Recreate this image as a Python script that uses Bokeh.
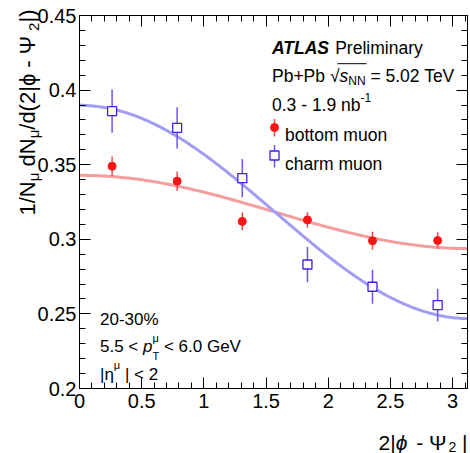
import numpy as np
from bokeh.plotting import figure
from bokeh.models import (Label, LinearAxis, SingleIntervalTicker,
                          CustomJSTickFormatter, Range1d)
from bokeh.embed import file_html
from bokeh.resources import INLINE

# ---- data -------------------------------------------------------------
# bin centres in 2|phi - Psi_2|
phi_bins = [0.262, 0.785, 1.309, 1.833, 2.356, 2.880]

bottom_vals = [0.349, 0.339, 0.312, 0.313, 0.299, 0.2992]
bottom_errs = [0.0065, 0.0064, 0.0060, 0.0052, 0.0060, 0.0056]

charm_vals = [0.3859, 0.3747, 0.341, 0.2831, 0.2682, 0.2559]
charm_errs = [0.0145, 0.0138, 0.0129, 0.0119, 0.0114, 0.0110]

# fitted v2 of (1/pi) * (1 + 2 v2 cos x)
v2_bottom = 0.0386
v2_charm = 0.1123

x_lim = (0.0, 3.12)
y_lim = (0.2, 0.45)

# ---- canvas geometry (pixels) ----------------------------------------
W, H = 470, 453
FL, FR, FT, FB = 79, 3, 15, 65          # margins of the plotting box
XS = (W - FL - FR) / (x_lim[1] - x_lim[0])
YS = (H - FT - FB) / (y_lim[1] - y_lim[0])


def dx(px):
    return x_lim[0] + (px - FL) / XS


def dy(py):
    return y_lim[1] - (py - FT) / YS


FONT = "Liberation Sans"

# the frame spans the whole canvas; the axes are pinned to the box edges
p = figure(width=W, height=H, title=None,
           x_range=Range1d(dx(0), dx(W)), y_range=Range1d(dy(H), dy(0)),
           output_backend="svg", toolbar_location=None,
           x_axis_type=None, y_axis_type=None,
           min_border_left=0, min_border_right=0,
           min_border_top=0, min_border_bottom=0)
p.outline_line_color = None
p.xgrid.visible = False
p.ygrid.visible = False
p.background_fill_color = "white"
p.border_fill_color = "white"

fmt = CustomJSTickFormatter(code="return String(parseFloat(tick.toFixed(3)));")
blank = CustomJSTickFormatter(code="return '';")


def make_axis(side, loc, bounds, interval, show_labels, standoff=0):
    ax = LinearAxis(fixed_location=loc, bounds=bounds,
                    ticker=SingleIntervalTicker(interval=interval, num_minor_ticks=5))
    ax.axis_line_color = "black"
    ax.axis_line_width = 1
    ax.major_tick_in = 11
    ax.major_tick_out = 0
    ax.minor_tick_in = 6
    ax.minor_tick_out = 0
    ax.major_tick_line_color = "black"
    ax.minor_tick_line_color = "black"
    if show_labels:
        ax.formatter = fmt
        ax.major_label_text_font = FONT
        ax.major_label_text_font_size = "20px"
        ax.major_label_text_color = "black"
        ax.major_label_standoff = standoff
    else:
        ax.formatter = blank
        ax.major_label_text_font_size = "0px"
        ax.major_label_standoff = 0
    p.add_layout(ax, side)


make_axis("below", y_lim[0], x_lim, 0.5, True, 5)
make_axis("above", y_lim[1], x_lim, 0.5, False)
make_axis("left", x_lim[0], y_lim, 0.05, True, 3)
make_axis("right", x_lim[1], y_lim, 0.05, False)

# ---- fit curves --------------------------------------------------------
xs = np.linspace(x_lim[0], x_lim[1], 200)
p.line(xs, (1 + 2 * v2_bottom * np.cos(xs)) / np.pi, line_color="#f59c9c", line_width=3)
p.line(xs, (1 + 2 * v2_charm * np.cos(xs)) / np.pi, line_color="#a19df2", line_width=3)

# ---- data points -------------------------------------------------------
RED, RED_BAR = "#fa1414", "#ff4a4a"
BLUE, BLUE_BAR = "#3d1ff5", "#6e55ff"

bv, be = np.array(bottom_vals), np.array(bottom_errs)
cv, ce = np.array(charm_vals), np.array(charm_errs)

p.segment(phi_bins, bv - be, phi_bins, bv + be, line_color=RED_BAR, line_width=1.5)
p.scatter(phi_bins, bv, marker="circle", size=8, fill_color=RED, line_color=RED)

p.segment(phi_bins, cv - ce, phi_bins, cv + ce, line_color=BLUE_BAR, line_width=1.5)
p.scatter(phi_bins, cv, marker="square", size=9, fill_color="white",
          line_color=BLUE, line_width=1.3)

# ---- text helpers ------------------------------------------------------
# advance widths (1/1000 em) of the sans face used for the labels
ADV = {" ": 278, "%": 889, "(": 333, ")": 333, "+": 584, "-": 333, ".": 278,
       "/": 278, "<": 584, "=": 584, "|": 260, "A": 667, "G": 778, "N": 722,
       "P": 667, "T": 611, "V": 667, "a": 556, "b": 556, "e": 556, "i": 222,
       "l": 222, "m": 833, "n": 556, "p": 556, "r": 333, "s": 500, "y": 500,
       "μ": 576, "η": 556, "ϕ": 700, "Ψ": 920, "√": 549}
ADV_BOLD = {"A": 722, "T": 611, "L": 611, "S": 667}


def width(text, size, style="normal"):
    table = ADV_BOLD if "bold" in style else {}
    return sum(table.get(c, ADV.get(c, 556)) for c in text) * size / 1000.0


def lab(text, px, py, size, style="normal", angle=0.0):
    # SVG drops leading blanks, so turn them into an offset
    lead = width(text[:len(text) - len(text.lstrip(" "))], size)
    if angle:
        py -= lead
    else:
        px += lead
    p.add_layout(Label(x=dx(px), y=dy(py), text=text.strip(" "), text_font=FONT,
                       text_font_size=f"{size}px", text_font_style=style,
                       text_color="black", text_baseline="alphabetic",
                       text_align="left", angle=angle))


def flow(pieces, px, py):
    """Lay out (text, size, style, shift, advance) pieces left to right on one baseline."""
    x = px
    spots = []
    for text, size, style, shift, adv in pieces:
        lab(text, x, py + shift, size, style)
        spots.append(x)
        if adv:
            x += width(text, size, style)
    return spots, x


def flow_up(pieces, px, py):
    """Same as flow, but rotated by 90 degrees and reading upwards."""
    y = py
    for text, size, style, shift, adv in pieces:
        lab(text, px + shift, y, size, style, angle=np.pi / 2)
        if adv:
            y -= width(text, size, style)


# ---- header block ------------------------------------------------------
HS = 17.5
flow([("ATLAS", HS, "bold italic", 0, True), (" Preliminary", HS, "normal", 0, True)],
     271.5, 47.5)
spots, end = flow([("Pb+Pb ", HS, "normal", 0, True), ("√", HS, "normal", 0, True),
                   ("s", HS, "italic", 0, True), ("NN", 12, "normal", 4.5, True),
                   (" = 5.02 TeV", HS, "normal", 0, True)], 271.5, 75.5)
rad_x = spots[1] + width("√", HS) * 0.78
nn_end = spots[3] + width("NN", 12) + 1
p.segment([dx(rad_x)], [dy(63.2)], [dx(nn_end)], [dy(63.2)], line_color="black", line_width=1)
flow([("0.3 - 1.9 nb", HS, "normal", 0, True), ("-1", 12, "normal", -7.5, True)],
     271.5, 104.5)

# ---- legend ------------------------------------------------------------
leg_x = dx(274)
p.segment([leg_x], [dy(136)], [leg_x], [dy(118.5)], line_color=RED_BAR, line_width=1.5)
p.scatter([leg_x], [dy(127)], marker="circle", size=8, fill_color=RED, line_color=RED)
lab("bottom muon", 284.5, 134, HS)
p.segment([leg_x], [dy(167)], [leg_x], [dy(144.5)], line_color=BLUE_BAR, line_width=1.5)
p.scatter([leg_x], [dy(155)], marker="square", size=9, fill_color="white",
          line_color=BLUE, line_width=1.3)
lab("charm muon", 284.5, 163.5, HS)

# ---- selection block ---------------------------------------------------
SS = 17
lab("20-30%", 99.5, 318.5, SS)
flow([("5.5 < ", SS, "normal", 0, True), ("p", SS, "italic", 0, True),
      ("μ", 11, "normal", -8.5, False), ("T", 11, "normal", 9.5, True),
      (" < 6.0 GeV", SS, "normal", 0, True)], 99.5, 345.5)
flow([("|η", SS, "normal", 0, True),
      ("μ", 11, "normal", -9, True), (" | < 2", SS, "normal", 0, True)], 99.5, 373.5)

# ---- x-axis title (right aligned to the box edge) ----------------------
XT = 21
x_title = [("2|", XT, "normal", 0, True), ("ϕ", XT, "italic", 0, True),
           (" - Ψ", XT, "normal", 0, True), ("2", 14, "normal", 4.5, True),
           (" |", XT, "normal", 0, True)]
total = sum(width(t, s) for t, s, _, _, a in x_title if a)
flow(x_title, 467 - total, 442)

# ---- y-axis title (rotated) --------------------------------------------
YT = 22
y_title = [("1/N", YT, "normal", 0, True), ("μ", 15, "normal", 6, True),
           (" dN", YT, "normal", 0, True), ("μ", 15, "normal", 6, True),
           ("/d(2|ϕ - Ψ", YT, "normal", 0, True), ("2", 15, "normal", 6, True),
           ("|)", YT, "normal", 0, True)]
total_y = sum(width(t, s) for t, s, _, _, a in y_title if a)
flow_up(y_title, 27, 112 + total_y / 2)

open("out.html", "w").write(file_html(p, INLINE))
